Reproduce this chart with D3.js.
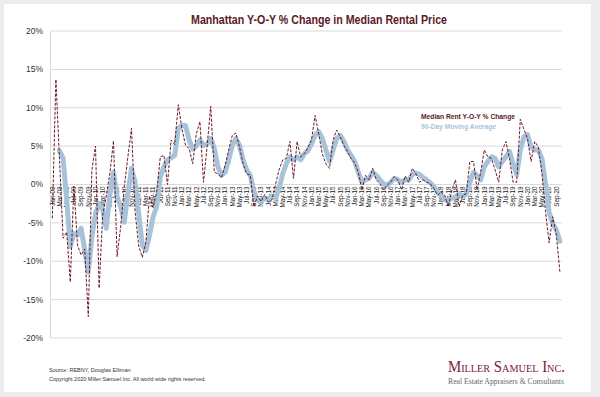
<!DOCTYPE html>
<html>
<head>
<meta charset="utf-8">
<script src="https://cdn.jsdelivr.net/npm/d3@7"></script>
<style>
  html, body { margin: 0; padding: 0; background: #ececec; }
  svg { display: block; }
  text { font-family: "Liberation Sans", Arial, sans-serif; }
</style>
</head>
<body>
<div id="chart"></div>
<script>
var years = ["09", "10", "11", "12", "13", "14", "15", "16", "17", "18", "19", "20"];
var monthNames = ["Jan", "Feb", "Mar", "Apr", "May", "Jun", "Jul", "Aug", "Sep", "Oct", "Nov", "Dec"];

// monthly y-o-y change, Jan-09 .. Oct-20
var rentChange = [
  -4.4, 13.7, 3.3, -7.0, -6.2, -12.7, -0.2, -7.9, -9.2, -8.4, -17.2, 1.9,
  5.0, -13.5, -4.0, -1.5, 1.5, 5.7, -9.4, -5.5, -0.3, 3.6, 7.3, -3.5,
  -8.0, -9.5, -7.5, -1.5, -3.0, -1.0, 3.6, 3.8, 0.0, 5.8, 5.2, 10.4,
  7.3, 5.1, 4.7, 2.7, 6.6, 8.2, 0.3, 4.9, 10.2, 1.6, 1.4, 0.9,
  2.5, 4.5, 6.4, 6.7, 4.9, 2.7, 1.4, 1.2, -2.9, -1.5, -2.2, -1.3,
  -2.3, -2.0, 0.0, 1.9, 3.2, 3.4, 5.6, 0.8, 5.6, 3.6, 4.0, 4.8,
  5.8, 9.0, 6.6, 4.0, 2.7, 2.1, 5.8, 7.1, 6.2, 5.1, 4.3, 3.4,
  2.8, 1.6, -0.7, 1.2, 0.6, 2.1, 0.6, 0.1, -0.7, -0.1, 0.3, 1.0,
  0.6, -0.7, 1.1, 0.3, 2.1, 1.4, 0.3, 0.6, 0.3, 0.1, -0.5, -1.4,
  -1.0, -1.4, -2.9, -0.7, 0.6, -2.9, -1.4, -1.2, 3.0, 3.0, -0.7, 1.6,
  4.5, 3.6, 3.4, 1.9, 0.3, 4.5, 5.6, 3.4, 0.3, 0.3, 8.5, 7.2,
  6.0, 3.0, 5.6, 4.9, 1.5, -3.5, -7.6, -4.2, -6.5, -11.4
];

var movingAvg = [
  null, null, 4.4, 3.4, -2.0, -8.1, -6.4, -6.6, -5.7, -8.5, -11.4, -6.8,
  -3.8, -2.5, -3.3, -5.7, -1.2, 1.6, -1.6, -2.9, -4.9, -1.2, 2.1, 0.3,
  -3.8, -7.9, -8.6, -6.6, -4.2, -2.9, 1.0, 2.3, 3.2, 3.5, 3.8, 7.3,
  7.7, 7.7, 5.8, 4.6, 5.0, 5.8, 5.1, 5.3, 6.0, 4.7, 2.3, 1.2,
  1.6, 3.2, 5.1, 6.0, 5.1, 3.2, 1.9, 1.2, -1.0, -2.0, -2.2, -1.8,
  -1.9, -1.5, -1.8, -0.5, 1.4, 2.7, 3.6, 3.2, 3.6, 3.2, 4.0, 4.4,
  5.3, 6.4, 6.9, 6.0, 4.5, 3.0, 4.5, 6.0, 6.4, 5.6, 4.5, 3.8,
  3.0, 1.6, 0.3, 0.6, 0.8, 1.6, 1.2, 0.6, 0.1, -0.1, 0.3, 0.8,
  0.6, 0.3, 0.6, 0.6, 1.3, 1.5, 1.3, 0.9, 0.6, 0.2, -0.3, -1.0,
  -1.4, -2.0, -2.0, -1.8, -1.6, -1.2, -1.6, -1.2, 0.3, 1.6, 1.2, 0.6,
  2.3, 3.0, 3.6, 3.4, 2.3, 3.0, 3.6, 4.3, 2.7, 1.3, 4.5, 6.2,
  6.5, 4.9, 4.5, 4.5, 3.4, 0.1, -3.6, -5.1, -5.9, -7.4
];

var yTicks = [-20, -15, -10, -5, 0, 5, 10, 15, 20];

var tickLabels = [
  "Jan-09", "Mar-09", "May-09", "Jul-09", "Sep-09", "Nov-09",
  "Jan-10", "Mar-10", "May-10", "Jul-10", "Sep-10", "Nov-10",
  "Jan-11", "Mar-11", "May-11", "Jul-11", "Sep-11", "Nov-11",
  "Jan-12", "Mar-12", "May-12", "Jul-12", "Sep-12", "Nov-12",
  "Jan-13", "Mar-13", "May-13", "Jul-13", "Sep-13", "Nov-13",
  "Jan-14", "Mar-14", "May-14", "Jul-14", "Sep-14", "Nov-14",
  "Jan-15", "Mar-15", "May-15", "Jul-15", "Sep-15", "Nov-15",
  "Jan-16", "Mar-16", "May-16", "Jul-16", "Sep-16", "Nov-16",
  "Jan-17", "Mar-17", "May-17", "Jul-17", "Sep-17", "Nov-17",
  "Jan-18", "Mar-18", "May-18", "Jul-18", "Sep-18", "Nov-18",
  "Jan-19", "Mar-19", "May-19", "Jul-19", "Sep-19", "Nov-19",
  "Jan-20", "Mar-20", "May-20", "Jul-20", "Sep-20"
];

var months = [];
years.forEach(function(y) {
  monthNames.forEach(function(m) { months.push(m + "-" + y); });
});
months = months.slice(0, rentChange.length);

var width = 600, height = 397;
var plot = {left: 50.5, right: 561.7, top: 31, bottom: 338};

var svg = d3.select("#chart").append("svg")
    .attr("width", width)
    .attr("height", height);

svg.append("rect")
    .attr("x", 4).attr("y", 4)
    .attr("width", 587).attr("height", 388)
    .attr("fill", "#fff");

var x = d3.scaleBand()
    .domain(months)
    .range([plot.left, plot.right]);

var y = d3.scaleLinear()
    .domain([-20, 20])
    .range([plot.bottom, plot.top]);

function cx(d) { return x(d) + x.bandwidth() / 2; }

// gridlines
svg.append("g")
  .selectAll("line")
  .data(yTicks)
  .enter().append("line")
    .attr("x1", plot.left)
    .attr("x2", plot.right)
    .attr("y1", function(d) { return y(d); })
    .attr("y2", function(d) { return y(d); })
    .attr("stroke", "#d9d9d9")
    .attr("stroke-width", 1);

svg.append("line")
    .attr("x1", plot.left).attr("x2", plot.left)
    .attr("y1", plot.top).attr("y2", plot.bottom)
    .attr("stroke", "#d9d9d9");

// y labels
svg.append("g")
  .selectAll("text")
  .data(yTicks)
  .enter().append("text")
    .attr("x", 43)
    .attr("y", function(d) { return y(d); })
    .attr("dy", "0.35em")
    .attr("text-anchor", "end")
    .attr("font-size", 8.5)
    .attr("fill", "#333")
    .text(function(d) { return d + "%"; });

// x labels, rotated, hanging under the 0% line
svg.append("g")
  .selectAll("text")
  .data(tickLabels)
  .enter().append("text")
    .attr("transform", function(d) {
      return "translate(" + cx(d) + "," + (y(0) + 2) + ")rotate(-90)";
    })
    .attr("dy", "0.35em")
    .attr("text-anchor", "end")
    .attr("font-size", 6.3)
    .attr("fill", "#222")
    .text(function(d) { return d; });

var series = months.map(function(m, i) {
  return {month: m, rent: rentChange[i], avg: movingAvg[i]};
});

var avgLine = d3.line()
    .defined(function(d) { return d.avg !== null; })
    .x(function(d) { return cx(d.month); })
    .y(function(d) { return y(d.avg); });

var rentLine = d3.line()
    .x(function(d) { return cx(d.month); })
    .y(function(d) { return y(d.rent); });

svg.append("path")
    .datum(series)
    .attr("fill", "none")
    .attr("stroke", "#a7c3da")
    .attr("stroke-width", 5)
    .attr("stroke-linejoin", "round")
    .attr("stroke-linecap", "round")
    .attr("d", avgLine);

svg.append("path")
    .datum(series)
    .attr("fill", "none")
    .attr("stroke", "#6b1a28")
    .attr("stroke-width", 1)
    .attr("stroke-dasharray", "3,1.5")
    .attr("d", rentLine);

// title
svg.append("text")
    .attr("x", 319)
    .attr("y", 24)
    .attr("text-anchor", "middle")
    .attr("font-size", 12.5)
    .attr("font-weight", "bold")
    .attr("fill", "#5a1a26")
    .attr("textLength", 256)
    .attr("lengthAdjust", "spacingAndGlyphs")
    .text("Manhattan Y-O-Y % Change in Median Rental Price");

// legend
svg.append("text")
    .attr("x", 421).attr("y", 118.5)
    .attr("font-size", 7.2)
    .attr("font-weight", "bold")
    .attr("fill", "#5a1a26")
    .attr("textLength", 94)
    .attr("lengthAdjust", "spacingAndGlyphs")
    .text("Median Rent Y-O-Y % Change");

svg.append("text")
    .attr("x", 421).attr("y", 128.5)
    .attr("font-size", 7.2)
    .attr("font-weight", "bold")
    .attr("fill", "#a7c3da")
    .attr("textLength", 75)
    .attr("lengthAdjust", "spacingAndGlyphs")
    .text("90-Day Moving Average");

// footer
svg.append("text")
    .attr("x", 49).attr("y", 372)
    .attr("font-size", 5.5)
    .attr("fill", "#333")
    .text("Source: REBNY, Douglas Elliman");

svg.append("text")
    .attr("x", 49).attr("y", 380.5)
    .attr("font-size", 5.5)
    .attr("fill", "#333")
    .text("Copyright 2020 Miller Samuel Inc.  All world wide rights reserved.");

svg.append("text")
    .attr("x", 448).attr("y", 372)
    .attr("font-size", 16)
    .style("font-variant", "small-caps")
    .style("font-family", "'Liberation Serif', 'DejaVu Serif', serif")
    .attr("fill", "#7a2434")
    .attr("textLength", 117)
    .attr("lengthAdjust", "spacingAndGlyphs")
    .text("Miller Samuel Inc.");

svg.append("text")
    .attr("x", 448).attr("y", 384)
    .attr("font-size", 8.3)
    .style("font-family", "'Liberation Serif', 'DejaVu Serif', serif")
    .attr("fill", "#666")
    .attr("textLength", 116)
    .attr("lengthAdjust", "spacingAndGlyphs")
    .text("Real Estate Appraisers & Consultants");
</script>
</body>
</html>
